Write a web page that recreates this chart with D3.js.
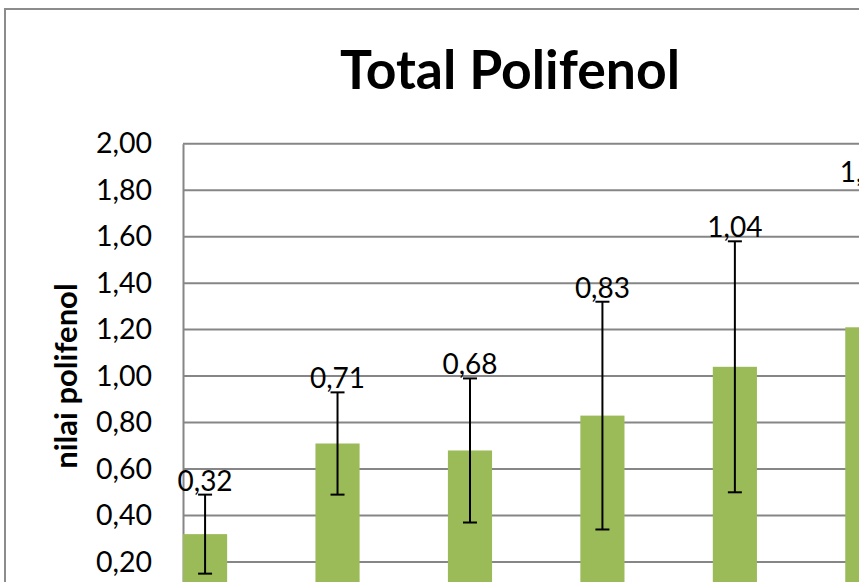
<!DOCTYPE html>
<html>
<head>
<meta charset="utf-8">
<script src="https://cdn.jsdelivr.net/npm/d3@7"></script>
<style>
  html, body { margin: 0; padding: 0; background: #fff; overflow: hidden; }
  svg { display: block; }
</style>
</head>
<body>
<div id="chart"></div>
<script>
// ---- data ----
const categories = ["1", "2", "3", "4", "5", "6"];
const values = [0.32, 0.71, 0.68, 0.83, 1.04, 1.21];
const errors = [0.17, 0.22, 0.31, 0.49, 0.54, 0.61];
const valueLabels = ["0,32", "0,71", "0,68", "0,83", "1,04", "1,21"];
const yTicks = [0.2, 0.4, 0.6, 0.8, 1.0, 1.2, 1.4, 1.6, 1.8, 2.0];
const titleText = "Total Polifenol";
const yTitleText = "nilai polifenol";

// ---- layout ----
const W = 1030, H = 700;
const plot = { left: 183, top: 143.7, bottom: 608.5 };
const step = 132.45;
plot.right = plot.left + step * categories.length;

const svg = d3.select("#chart").append("svg")
  .attr("width", W).attr("height", H);

svg.append("rect").attr("x", 0).attr("y", 0).attr("width", W).attr("height", H).attr("fill", "#fff");

// chart border
svg.append("rect")
  .attr("x", 5).attr("y", 9).attr("width", 1010).attr("height", 680)
  .attr("fill", "none").attr("stroke", "#8c8c8c").attr("stroke-width", 2);

const x = d3.scaleBand().domain(categories).range([plot.left, plot.right]).paddingInner(0).paddingOuter(0);
const y = d3.scaleLinear().domain([0, 2]).range([plot.bottom, plot.top]);
const barW = x.bandwidth() / 3;

// gridlines
svg.append("g").selectAll("line").data(yTicks).join("line")
  .attr("x1", plot.left).attr("x2", plot.right)
  .attr("y1", d => y(d)).attr("y2", d => y(d))
  .attr("stroke", "#868686").attr("stroke-width", 2);

// y axis
const yAxis = d3.axisLeft(y).tickValues(yTicks).tickSize(0).tickPadding(31)
  .tickFormat(d => d3.format(".2f")(d).replace(".", ","));
const gy = svg.append("g").attr("transform", `translate(${plot.left},0)`).call(yAxis);
gy.select(".domain").attr("stroke", "#868686").attr("stroke-width", 2);
gy.selectAll("text").attr("font-family", "Lato, sans-serif").attr("font-size", 28.5).attr("fill", "#000");

// x axis baseline (below the visible crop)
const gx = svg.append("g").attr("transform", `translate(0,${plot.bottom})`)
  .call(d3.axisBottom(x).tickSize(0).tickFormat(""));
gx.select(".domain").attr("stroke", "#868686").attr("stroke-width", 2);

// bars
svg.append("g").selectAll("rect").data(categories).join("rect")
  .attr("x", d => x(d))
  .attr("y", (d, i) => y(values[i]))
  .attr("width", barW)
  .attr("height", (d, i) => y(0) - y(values[i]))
  .attr("fill", "#9BBB59");

// error bars
const eg = svg.append("g").attr("stroke", "#000").attr("stroke-width", 2);
categories.forEach((c, i) => {
  const cx = x(c) + barW / 2;
  const hi = y(values[i] + errors[i]), lo = y(values[i] - errors[i]);
  eg.append("line").attr("x1", cx).attr("x2", cx).attr("y1", hi).attr("y2", lo);
  eg.append("line").attr("x1", cx - 7).attr("x2", cx + 7).attr("y1", hi).attr("y2", hi);
  eg.append("line").attr("x1", cx - 7).attr("x2", cx + 7).attr("y1", lo).attr("y2", lo);
});

// value labels
svg.append("g").selectAll("text").data(categories).join("text")
  .attr("x", d => x(d) + barW / 2)
  .attr("y", (d, i) => y(values[i] + errors[i]) - 4)
  .attr("text-anchor", "middle")
  .attr("font-family", "Lato, sans-serif").attr("font-size", 28).attr("fill", "#000")
  .text((d, i) => valueLabels[i]);

// title
svg.append("text")
  .attr("x", 510).attr("y", 89)
  .attr("text-anchor", "middle")
  .attr("font-family", "Lato, sans-serif").attr("font-weight", "bold").attr("font-size", 53.5)
  .attr("fill", "#000")
  .text(titleText);

// y title
svg.append("text")
  .attr("transform", `translate(77,${(plot.top + plot.bottom) / 2}) rotate(-90)`)
  .attr("text-anchor", "middle")
  .attr("font-family", "Lato, sans-serif").attr("font-weight", "bold").attr("font-size", 31)
  .attr("fill", "#000")
  .text(yTitleText);
</script>
</body>
</html>
